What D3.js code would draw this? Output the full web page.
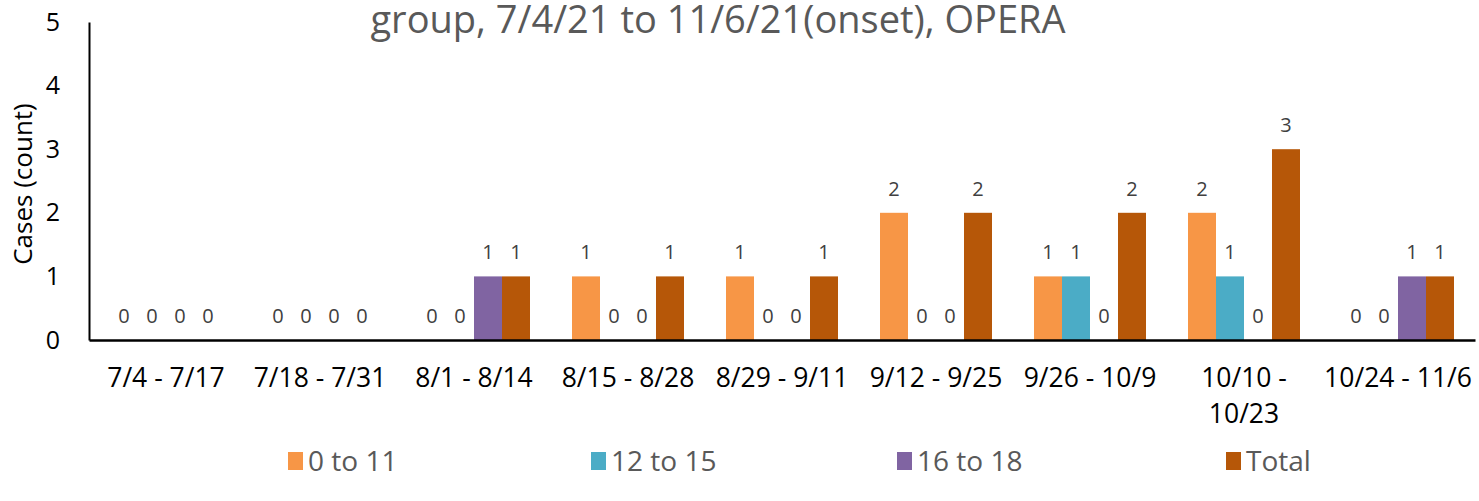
<!DOCTYPE html>
<html>
<head>
<meta charset="utf-8">
<script src="https://cdn.jsdelivr.net/npm/d3@7"></script>
<style>
  html, body { margin: 0; padding: 0; background: #fff; }
  svg { display: block; font-family: "Open Sans", sans-serif; }
</style>
</head>
<body>
<svg id="chart" width="1479" height="501"></svg>
<script>
'use strict';

var categories = [
  '7/4 - 7/17', '7/18 - 7/31', '8/1 - 8/14', '8/15 - 8/28', '8/29 - 9/11',
  '9/12 - 9/25', '9/26 - 10/9', '10/10 - 10/23', '10/24 - 11/6'
];
var seriesNames = ['0 to 11', '12 to 15', '16 to 18', 'Total'];
var age0to11  = [0, 0, 0, 1, 1, 2, 1, 2, 0];
var age12to15 = [0, 0, 0, 0, 0, 0, 1, 1, 0];
var age16to18 = [0, 0, 1, 0, 0, 0, 0, 0, 1];
var total     = [0, 0, 1, 1, 1, 2, 2, 3, 1];
var yTicks = [0, 1, 2, 3, 4, 5];
var titleText = 'group, 7/4/21 to 11/6/21(onset), OPERA';

var FONT = '"Open Sans", sans-serif';
var SERIES_COLORS = ['#F79646', '#4BACC6', '#8064A2', '#B65708'];
var LEGEND_X = [288, 591, 897, 1226];

function BuildRows() {
  var values = [age0to11, age12to15, age16to18, total];
  return categories.map(function(cat, i) {
    return {
      category: cat,
      bars: seriesNames.map(function(name, s) {
        return { series: name, value: values[s][i], color: SERIES_COLORS[s] };
      })
    };
  });
}

// break long category labels the way the original does ("10/10 -" / "10/23")
function WrapLabel(textSel) {
  textSel.each(function() {
    var text = d3.select(this);
    var words = text.text().split(' ');
    var lines = [];
    var line = '';
    words.forEach(function(w) {
      var tryLine = line ? line + ' ' + w : w;
      if (tryLine.length > 12 && line) {
        lines.push(line);
        line = w;
      } else {
        line = tryLine;
      }
    });
    lines.push(line);
    text.text(null);
    lines.forEach(function(l, k) {
      text.append('tspan')
        .attr('x', 0)
        .attr('dy', k === 0 ? '0.71em' : '1.36em')
        .text(l);
    });
  });
}

function RenderChart() {
  var rows = BuildRows();
  var svg = d3.select('#chart');
  var left = 89, right = 1475, top = 22, bottom = 340;

  var x0 = d3.scaleBand().domain(categories).range([left, right]).padding(0);
  var x1 = d3.scaleBand().domain(seriesNames)
      .range([0, x0.bandwidth()])
      .paddingInner(0)
      .paddingOuter(0.75);
  var y = d3.scaleLinear().domain([0, 5]).range([bottom, top]);

  // title (its first line is clipped off in the original)
  svg.append('text')
      .attr('x', 718)
      .attr('y', 33)
      .attr('text-anchor', 'middle')
      .attr('fill', '#595959')
      .attr('font-size', 38)
      .text(titleText);

  // y axis
  var yAxis = svg.append('g')
      .attr('transform', 'translate(' + left + ',0)')
      .call(d3.axisLeft(y).tickValues(yTicks).tickFormat(d3.format('d'))
        .tickSize(0).tickPadding(29));
  yAxis.select('.domain').attr('stroke', '#000').attr('stroke-width', 2);
  yAxis.selectAll('text')
      .attr('font-size', 25)
      .attr('fill', '#000')
      .attr('font-family', FONT);

  svg.append('text')
      .attr('transform', 'translate(32,' + 184 + ') rotate(-90)')
      .attr('text-anchor', 'middle')
      .attr('font-size', 26)
      .attr('fill', '#000')
      .text('Cases (count)');

  // bars
  var group = svg.selectAll('g.cat')
      .data(rows)
    .enter().append('g')
      .attr('class', 'cat')
      .attr('transform', function(d) {
        return 'translate(' + x0(d.category) + ',0)';
      });
  group.selectAll('rect')
      .data(function(d) { return d.bars; })
    .enter().append('rect')
      .attr('x', function(b) { return x1(b.series); })
      .attr('y', function(b) { return y(b.value); })
      .attr('width', x1.bandwidth())
      .attr('height', function(b) { return y(0) - y(b.value); })
      .attr('fill', function(b) { return b.color; });
  group.selectAll('text.lbl')
      .data(function(d) { return d.bars; })
    .enter().append('text')
      .attr('class', 'lbl')
      .attr('x', function(b) { return x1(b.series) + x1.bandwidth() / 2; })
      .attr('y', function(b) { return y(b.value) - 17; })
      .attr('text-anchor', 'middle')
      .attr('font-size', 20)
      .attr('fill', '#404040')
      .text(function(b) { return b.value; });

  // x axis
  var xAxis = svg.append('g')
      .attr('transform', 'translate(0,' + bottom + ')')
      .call(d3.axisBottom(x0).tickSize(0).tickPadding(28).tickSizeOuter(0));
  xAxis.select('.domain').attr('stroke', '#000').attr('stroke-width', 2.5);
  xAxis.selectAll('text')
      .attr('font-size', 26.5)
      .attr('fill', '#000')
      .attr('font-family', FONT)
      .call(WrapLabel);

  // legend
  var legend = svg.selectAll('g.legend')
      .data(seriesNames)
    .enter().append('g')
      .attr('class', 'legend')
      .attr('transform', function(d, i) {
        return 'translate(' + LEGEND_X[i] + ',452)';
      });
  legend.append('rect')
      .attr('width', 15)
      .attr('height', 18)
      .attr('fill', function(d, i) { return SERIES_COLORS[i]; });
  legend.append('text')
      .attr('x', 20)
      .attr('y', 19)
      .attr('font-size', 28)
      .attr('fill', '#595959')
      .text(function(d) { return d; });
}

RenderChart();
</script>
</body>
</html>
